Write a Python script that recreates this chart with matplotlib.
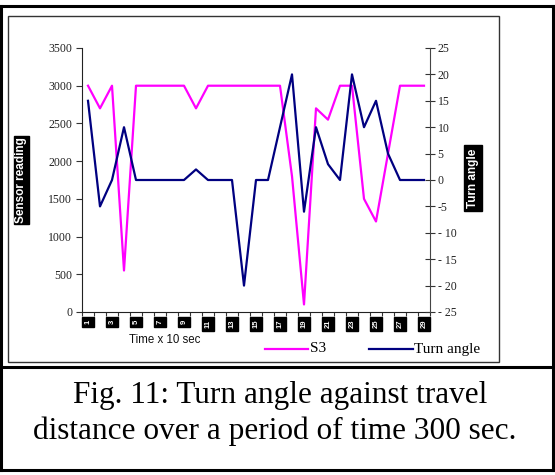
import matplotlib
matplotlib.use("Agg")
from matplotlib import pyplot as plt
from matplotlib.lines import Line2D
from matplotlib.patches import Rectangle
import matplotlib.transforms as mtransforms
import numpy as np

# data (29 samples, one every 10 s)
tiempo = list(range(1, 30))
s3 = [3000, 2700, 3000, 550, 3000, 3000, 3000, 3000, 3000, 2700,
      3000, 3000, 3000, 3000, 3000, 3000, 3000, 1800, 100, 2700,
      2550, 3000, 3000, 1500, 1200, 2100, 3000, 3000, 3000]
turn_angle = [15, -5, 0, 10, 0, 0, 0, 0, 0, 2,
              0, 0, 0, -20, 0, 0, 10, 20, -6, 10,
              3, 0, 20, 10, 15, 5, 0, 0, 0]
tick_labels = [str(t) for t in tiempo[::2]]
left_ticks = [0, 500, 1000, 1500, 2000, 2500, 3000, 3500]
right_ticks = list(range(-25, 30, 5))

serif = "Liberation Serif"
sans = "Liberation Sans"

fig = plt.figure(figsize=(5.55, 4.75), dpi=100)
W, H = 555, 475

def fx(px):
    return px / W

def fy(py):
    return 1 - py / H

# outer borders
for (x0, y0, x1, y1) in [(0, 6, 555, 6), (553, 6, 553, 470), (0, 367, 555, 367),
                         (0, 470, 555, 470), (1, 6, 1, 470)]:
    fig.add_artist(Line2D([fx(x0), fx(x1)], [fy(y0), fy(y1)], color="black", lw=2.2))
# chart frame
fig.add_artist(Rectangle((fx(8), fy(362)), fx(499 - 8), (362 - 16) / H, fill=False,
                         edgecolor="#333333", lw=1.0))

ax = fig.add_axes([fx(82), fy(312), fx(430 - 82), (312 - 48) / H])
ax2 = ax.twinx()

ax.plot(tiempo, s3, color="#ff00ff", lw=1.6, label="S3", zorder=3)
ax2.plot(tiempo, turn_angle, color="#000080", lw=1.6, label="Turn angle", zorder=3)

ax.set_xlim(0.5, 29.5)
ax.set_ylim(0, 3500)
ax2.set_ylim(-25, 25)

ax.set_xticks(np.arange(0.5, 30, 1))
ax.set_xticklabels([])
ax.tick_params(axis="x", direction="out", length=3, width=0.8, color="#333333")
ax.set_yticks(left_ticks)
ax.set_yticklabels([str(v) for v in left_ticks], fontfamily=serif, fontsize=8.5, color="#222222")
ax.tick_params(axis="y", direction="out", length=4, width=0.8, color="#333333", pad=3)

ax2.set_yticks(right_ticks)
ax2.set_yticklabels([("- " + str(-v) if v <= -10 else str(v)) for v in right_ticks],
                    fontfamily=serif, fontsize=8.5, color="#222222")
ax2.tick_params(axis="y", direction="inout", length=7, width=0.8, color="#333333", pad=2)

for a in (ax, ax2):
    a.spines["top"].set_visible(False)
    a.patch.set_visible(False)
ax.spines["right"].set_visible(False)
ax2.spines["left"].set_visible(False)
ax2.spines["bottom"].set_visible(False)
for s in ("left", "bottom"):
    ax.spines[s].set_color("#222222")
ax2.spines["right"].set_color("#444444")

# rotated category labels, white on black like the source
trans = mtransforms.blended_transform_factory(ax.transData, ax.transAxes)
for t, lab in zip(tiempo[::2], tick_labels):
    ax.text(t, -0.03, lab, transform=trans, rotation=90, ha="center", va="top",
            fontsize=5.5, fontweight="bold", color="white", family=sans,
            bbox=dict(boxstyle="square,pad=0.35", fc="black", ec="black"))

fig.text(fx(165), fy(340), "Time x 10 sec", ha="center", va="center",
         fontsize=8.3, family=sans, color="#111111")

fig.text(fx(21.5), fy(180), "Sensor reading", rotation=90, ha="center", va="center",
         fontsize=8.5, fontweight="bold", color="white", family=sans,
         bbox=dict(boxstyle="square,pad=0.1", fc="black", ec="black"))
fig.text(fx(473), fy(178), "Turn angle", rotation=90, ha="center", va="center",
         fontsize=8.5, fontweight="bold", color="white", family=sans,
         bbox=dict(boxstyle="square,pad=0.25", fc="black", ec="black"))

# legend drawn by hand below the axes
fig.add_artist(Line2D([fx(265), fx(308)], [fy(349), fy(349)], color="#ff00ff", lw=1.6))
fig.text(fx(310), fy(349), "S3", ha="left", va="center", fontsize=11, family=serif)
fig.add_artist(Line2D([fx(369), fx(413)], [fy(349), fy(349)], color="#000080", lw=1.6))
fig.text(fx(414), fy(349), "Turn angle", ha="left", va="center", fontsize=11, family=serif)

fig.text(fx(280), fy(396), "Fig. 11: Turn angle against travel", ha="center", va="center",
         fontsize=22.5, family=serif)
fig.text(fx(275), fy(431), "distance over a period of time 300 sec.", ha="center", va="center",
         fontsize=22.5, family=serif)

fig.savefig("out.png", dpi=100)
